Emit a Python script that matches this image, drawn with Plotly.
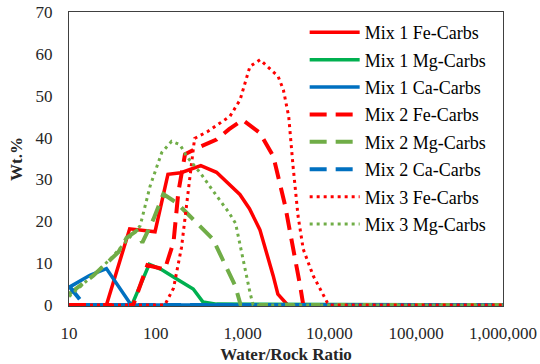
import plotly.graph_objects as go

# ---- data ----
mix1_fe_x = [10, 27, 50, 98, 138, 195, 330, 500, 930, 1200, 1580, 1900, 2250, 2550, 3300, 1000000]
mix1_fe_y = [0, 0, 18.2, 17.5, 31.2, 31.6, 33.3, 31.7, 26.4, 23.0, 18.0, 12.5, 7.0, 2.6, 0, 0]

mix1_mg_x = [10, 53, 84, 115, 180, 270, 350, 500, 1000000]
mix1_mg_y = [0, 0, 9.7, 8.5, 6.0, 3.8, 0.7, 0.2, 0]

mix1_ca_x = [10, 17.4, 27, 52, 1000000]
mix1_ca_y = [4.2, 7.1, 8.7, 0, 0]

mix2_fe_x = [10, 55, 80, 100, 127, 160, 182, 217, 300, 500, 700, 1000, 1580, 2260, 2700, 3100, 3530, 4000, 4600, 5000, 1000000]
mix2_fe_y = [0, 0, 9.5, 9.0, 8.5, 15.0, 27.0, 36.0, 37.5, 39.5, 42.0, 44.2, 41.1, 35.5, 29.2, 23.6, 17.3, 11.7, 4.6, 0, 0]

mix2_mg_x = [10, 19, 37, 46, 60, 70, 94, 122, 174, 296, 456, 820, 950, 1000000]
mix2_mg_y = [2.6, 7.0, 12.6, 16.0, 17.7, 14.9, 20.5, 26.5, 24.4, 19.7, 15.7, 4.6, 0, 0]

mix2_ca_x = [10, 15, 1000000]
mix2_ca_y = [4.5, 0, 0]

mix3_fe_x = [10, 127, 160, 198, 248, 280, 400, 716, 935, 1216, 1590, 2570, 2950, 3400, 3820, 4350, 5000, 6500, 9500, 10000, 1000000]
mix3_fe_y = [0, 0, 4.0, 13.8, 30.8, 39.8, 41.5, 45.1, 49.0, 57.0, 58.6, 54.6, 51.4, 45.0, 33.0, 21.3, 13.3, 7.0, 0.5, 0, 0]

mix3_mg_x = [10, 20, 30, 50, 66, 86, 117, 152, 190, 227, 324, 505, 700, 830, 935, 1070, 1216, 1320, 1000000]
mix3_mg_y = [2.0, 7.5, 11.0, 16.0, 18.9, 28.4, 36.4, 39.1, 38.3, 35.5, 31.6, 26.0, 22.0, 19.5, 14.1, 8.6, 3.0, 0, 0]

x_tick_vals = [10, 100, 1000, 10000, 100000, 1000000]
x_tick_text = ["10", "100", "1,000", "10,000", "100,000", "1,000,000"]
y_tick_vals = [0, 10, 20, 30, 40, 50, 60, 70]

series = [
    ("Mix 1 Fe-Carbs", mix1_fe_x, mix1_fe_y, "#FF0000", "solid", 3.5),
    ("Mix 1 Mg-Carbs", mix1_mg_x, mix1_mg_y, "#00B050", "solid", 3.5),
    ("Mix 1 Ca-Carbs", mix1_ca_x, mix1_ca_y, "#0070C0", "solid", 3.5),
    ("Mix 2 Fe-Carbs", mix2_fe_x, mix2_fe_y, "#FF0000", "17px,9px", 4),
    ("Mix 2 Mg-Carbs", mix2_mg_x, mix2_mg_y, "#70AD47", "17px,9px", 4),
    ("Mix 2 Ca-Carbs", mix2_ca_x, mix2_ca_y, "#0070C0", "17px,9px", 4),
    ("Mix 3 Fe-Carbs", mix3_fe_x, mix3_fe_y, "#FF0000", "3px,4px", 3),
    ("Mix 3 Mg-Carbs", mix3_mg_x, mix3_mg_y, "#70AD47", "3px,4px", 3),
]

fig = go.Figure()
for i, (name, xs, ys, color, dash, w) in enumerate(series):
    fig.add_trace(go.Scatter(
        x=xs, y=ys, name=name, mode="lines", legendgroup=f"g{i}",
        line=dict(color=color, dash=dash, width=w),
    ))

serif = "Liberation Serif"
tick_font = dict(family=serif, size=17, color="#262626")
title_font = dict(family=serif, size=17, color="#262626")
fig.update_layout(
    width=540, height=364,
    margin=dict(l=69, r=37, t=12, b=58, autoexpand=False),
    paper_bgcolor="white", plot_bgcolor="white",
    font=dict(family=serif, size=17, color="#262626"),
    showlegend=True,
    legend=dict(
        x=0.543, y=0.993, xanchor="left", yanchor="top",
        bgcolor="rgba(0,0,0,0)", borderwidth=0,
        traceorder="grouped", tracegroupgap=1,
        font=dict(family=serif, size=18, color="#000000"),
        itemwidth=50,
    ),
    xaxis=dict(
        type="log", range=[1, 6], automargin=False,
        tickvals=x_tick_vals, ticktext=x_tick_text, tickfont=tick_font,
        showgrid=False, zeroline=False,
        showline=True, linecolor="#404040", linewidth=1, mirror=True,
        ticks="", ticklabelstandoff=12,
        title=dict(text="<b>Water/Rock Ratio</b>", font=title_font, standoff=6),
    ),
    yaxis=dict(
        range=[-0.25, 70], automargin=False,
        tickvals=y_tick_vals, tickfont=tick_font,
        showgrid=False, zeroline=False,
        showline=True, linecolor="#404040", linewidth=1, mirror=True,
        ticks="", ticklabelstandoff=12,
        title=dict(text="<b>Wt.%</b>", font=title_font, standoff=8),
    ),
)

fig.write_html(
    "out.html",
    config={"displayModeBar": False},
    post_script="document.body.style.margin='0';document.body.style.overflow='hidden';",
)
